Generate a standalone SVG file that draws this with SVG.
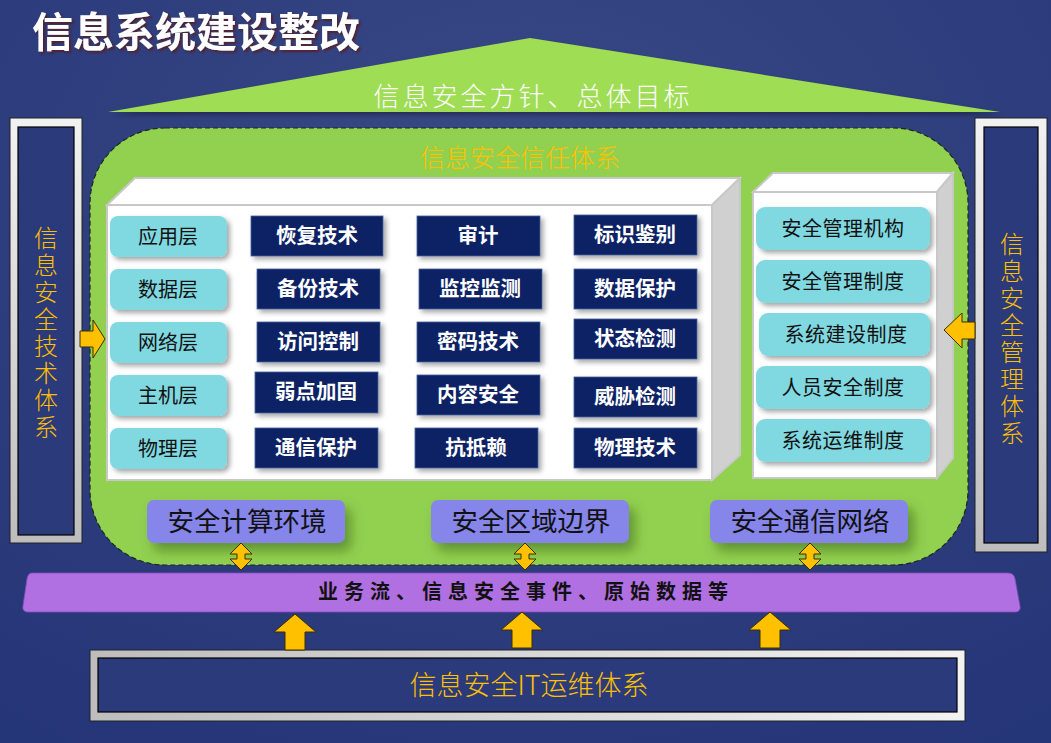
<svg xmlns="http://www.w3.org/2000/svg" width="1051" height="743" viewBox="0 0 1051 743">
<defs>
  <radialGradient id="bg" cx="0.5" cy="0.25" r="0.9">
    <stop offset="0" stop-color="#3a4a86"/>
    <stop offset="0.6" stop-color="#2c3c7c"/>
    <stop offset="1" stop-color="#243578"/>
  </radialGradient>
  <linearGradient id="silver" x1="0" y1="0" x2="0" y2="1">
    <stop offset="0" stop-color="#f2f2f2"/>
    <stop offset="1" stop-color="#bdbdbd"/>
  </linearGradient>
  <linearGradient id="silverH" x1="0" y1="0" x2="1" y2="0">
    <stop offset="0" stop-color="#bdbdbd"/>
    <stop offset="1" stop-color="#f2f2f2"/>
  </linearGradient>
  <filter id="sh" x="-20%" y="-20%" width="150%" height="160%">
    <feDropShadow dx="3" dy="3" stdDeviation="2.5" flood-color="#000" flood-opacity="0.35"/>
  </filter>
  <filter id="sh2" x="-20%" y="-30%" width="150%" height="190%">
    <feDropShadow dx="6" dy="8" stdDeviation="6" flood-color="#2f5a10" flood-opacity="0.5"/>
  </filter>
  <filter id="tsh" x="-10%" y="-20%" width="120%" height="150%">
    <feDropShadow dx="2" dy="2" stdDeviation="0.8" flood-color="#5a1a1a" flood-opacity="0.8"/>
  </filter>
  <style>
    .cn{font-family:"Noto Sans CJK SC","Noto Sans",sans-serif}
    .layer{fill:#80d8e0}
    .tech{fill:#0b2465;stroke:#4a5f99;stroke-width:0.8}
    .lt{font-size:20px;fill:#111;text-anchor:middle}
    .tt{font-size:20.5px;fill:#fff;font-weight:bold;text-anchor:middle}
    .mt{font-size:20px;fill:#111;text-anchor:middle;letter-spacing:0.5px}
    .bt{font-size:26.5px;fill:#111;text-anchor:middle}
    .arrow{fill:#ffc000;stroke:#3a3000;stroke-width:1}
    .vt{font-size:24px;fill:#ffc000;font-weight:300;letter-spacing:3px}
  </style>
</defs>

<rect width="1051" height="743" fill="url(#bg)"/>

<g id="title">
  <text x="32" y="47" class="cn" font-size="41" font-weight="bold" fill="#ffffff" filter="url(#tsh)">信息系统建设整改</text>
</g>

<g id="roof">
  <polygon points="108,112 530,38 1000,112" fill="#9fdd55" filter="url(#sh)"/>
  <text x="533" y="106" class="cn" font-size="26" fill="#ffffff" text-anchor="middle" letter-spacing="3" font-weight="300">信息安全方针、总体目标</text>
</g>

<g id="tech-system">
  <rect x="10" y="118" width="72" height="425" fill="url(#silver)" stroke="#222" stroke-width="1"/>
  <rect x="18" y="127" width="56" height="408" fill="#2b3a7a" stroke="#000" stroke-width="1.2"/>
  <text x="46" y="226" class="cn vt" writing-mode="tb">信息安全技术体系</text>
</g>

<g id="mgmt-system">
  <rect x="975" y="118" width="72" height="434" fill="url(#silver)" stroke="#222" stroke-width="1"/>
  <rect x="984" y="127" width="54" height="416" fill="#2b3a7a" stroke="#000" stroke-width="1.2"/>
  <text x="1012" y="232" class="cn vt" writing-mode="tb">信息安全管理体系</text>
</g>

<g id="trust-system">
  <rect x="90" y="128" width="878" height="437" rx="75" ry="75" fill="#92d050" stroke="#1a2a1a" stroke-width="1.2" stroke-dasharray="5,3"/>
  <text x="520" y="167" class="cn" font-size="25" fill="#ffc000" text-anchor="middle" font-weight="300">信息安全信任体系</text>
</g>

<g id="tech-box">
  <polygon points="107,205 135,178 740,178 712,205" fill="#ffffff" stroke="#c8c8c8" stroke-width="2"/>
  <polygon points="712,205 740,178 740,455 712,480" fill="#d0d0d0" stroke="#c8c8c8" stroke-width="2"/>
  <rect x="107" y="205" width="605" height="275" fill="#ffffff" stroke="#c8c8c8" stroke-width="2"/>
</g>

<g id="layers" class="cn">
  <g id="l-app"><rect x="110" y="216" width="117" height="41" rx="8" class="layer" filter="url(#sh)"/><text x="168" y="244" class="lt">应用层</text></g>
  <g id="l-data"><rect x="110" y="269" width="117" height="41" rx="8" class="layer" filter="url(#sh)"/><text x="168" y="297" class="lt">数据层</text></g>
  <g id="l-net"><rect x="110" y="322" width="117" height="41" rx="8" class="layer" filter="url(#sh)"/><text x="168" y="350" class="lt">网络层</text></g>
  <g id="l-host"><rect x="110" y="375" width="117" height="41" rx="8" class="layer" filter="url(#sh)"/><text x="168" y="403" class="lt">主机层</text></g>
  <g id="l-phy"><rect x="110" y="428" width="117" height="41" rx="8" class="layer" filter="url(#sh)"/><text x="168" y="456" class="lt">物理层</text></g>
</g>

<g id="techs" class="cn">
  <g id="t1"><rect x="251" y="216" width="132" height="40" class="tech" filter="url(#sh)"/><text x="317" y="243" class="tt">恢复技术</text></g>
  <g id="t2"><rect x="257" y="269" width="123" height="40" class="tech" filter="url(#sh)"/><text x="318" y="296" class="tt">备份技术</text></g>
  <g id="t3"><rect x="257" y="322" width="123" height="40" class="tech" filter="url(#sh)"/><text x="318" y="349" class="tt">访问控制</text></g>
  <g id="t4"><rect x="255" y="372" width="123" height="41" class="tech" filter="url(#sh)"/><text x="316" y="399" class="tt">弱点加固</text></g>
  <g id="t5"><rect x="255" y="428" width="123" height="40" class="tech" filter="url(#sh)"/><text x="316" y="455" class="tt">通信保护</text></g>

  <g id="t6"><rect x="417" y="216" width="123" height="40" class="tech" filter="url(#sh)"/><text x="478" y="243" class="tt">审计</text></g>
  <g id="t7"><rect x="419" y="269" width="123" height="40" class="tech" filter="url(#sh)"/><text x="480" y="296" class="tt">监控监测</text></g>
  <g id="t8"><rect x="417" y="322" width="123" height="40" class="tech" filter="url(#sh)"/><text x="478" y="349" class="tt">密码技术</text></g>
  <g id="t9"><rect x="417" y="375" width="123" height="40" class="tech" filter="url(#sh)"/><text x="478" y="402" class="tt">内容安全</text></g>
  <g id="t10"><rect x="415" y="428" width="123" height="40" class="tech" filter="url(#sh)"/><text x="476" y="455" class="tt">抗抵赖</text></g>

  <g id="t11"><rect x="574" y="215" width="123" height="40" class="tech" filter="url(#sh)"/><text x="635" y="242" class="tt">标识鉴别</text></g>
  <g id="t12"><rect x="574" y="269" width="123" height="40" class="tech" filter="url(#sh)"/><text x="635" y="296" class="tt">数据保护</text></g>
  <g id="t13"><rect x="574" y="319" width="123" height="40" class="tech" filter="url(#sh)"/><text x="635" y="346" class="tt">状态检测</text></g>
  <g id="t14"><rect x="574" y="377" width="123" height="40" class="tech" filter="url(#sh)"/><text x="635" y="404" class="tt">威胁检测</text></g>
  <g id="t15"><rect x="574" y="428" width="123" height="40" class="tech" filter="url(#sh)"/><text x="635" y="455" class="tt">物理技术</text></g>
</g>

<g id="mgmt-box">
  <polygon points="753,192 773,173 953,173 937,192" fill="#ffffff" stroke="#c8c8c8" stroke-width="2"/>
  <polygon points="937,192 953,173 953,458 937,478" fill="#d0d0d0" stroke="#c8c8c8" stroke-width="2"/>
  <rect x="753" y="192" width="184" height="286" fill="#ffffff" stroke="#c8c8c8" stroke-width="2"/>
</g>

<g id="mgmt" class="cn">
  <g id="m1"><rect x="756" y="207" width="174" height="43" rx="9" class="layer" filter="url(#sh)"/><text x="843" y="236" class="mt">安全管理机构</text></g>
  <g id="m2"><rect x="756" y="260" width="174" height="43" rx="9" class="layer" filter="url(#sh)"/><text x="843" y="289" class="mt">安全管理制度</text></g>
  <g id="m3"><rect x="759" y="313" width="171" height="43" rx="9" class="layer" filter="url(#sh)"/><text x="846" y="342" class="mt">系统建设制度</text></g>
  <g id="m4"><rect x="756" y="366" width="174" height="43" rx="9" class="layer" filter="url(#sh)"/><text x="843" y="395" class="mt">人员安全制度</text></g>
  <g id="m5"><rect x="756" y="419" width="174" height="43" rx="9" class="layer" filter="url(#sh)"/><text x="843" y="448" class="mt">系统运维制度</text></g>
</g>

<g id="zones" class="cn">
  <g id="z1"><rect x="147" y="500" width="198" height="43" rx="7" fill="#8585ea" filter="url(#sh2)"/><text x="247" y="531" class="bt">安全计算环境</text></g>
  <g id="z2"><rect x="431" y="500" width="198" height="43" rx="7" fill="#8585ea" filter="url(#sh2)"/><text x="531" y="531" class="bt">安全区域边界</text></g>
  <g id="z3"><rect x="710" y="500" width="198" height="43" rx="7" fill="#8585ea" filter="url(#sh2)"/><text x="810" y="531" class="bt">安全通信网络</text></g>
</g>

<g id="dataflow">
  <path d="M32,573 L1008,573 Q1014,573 1015,579 L1020,606 Q1021,612 1015,612 L28,612 Q22,612 23,606 L27,579 Q28,573 32,573 Z" fill="#b070e2" stroke="#8a4cc0" stroke-width="0.8"/>
  <text x="526" y="599" class="cn" font-size="20" font-weight="bold" fill="#111" text-anchor="middle" letter-spacing="6">业务流、信息安全事件、原始数据等</text>
</g>

<g id="itops">
  <rect x="90" y="650" width="875" height="71" fill="url(#silverH)" stroke="#222" stroke-width="1"/>
  <rect x="98" y="658" width="859" height="54" fill="#2b3a7a" stroke="#000" stroke-width="1.2"/>
  <text x="529" y="695" class="cn" font-size="27" fill="#ffc000" text-anchor="middle" font-weight="300">信息安全IT运维体系</text>
</g>

<g id="connectors">
  <polygon class="arrow" points="80,331 93,331 93,320 105,339 93,358 93,347 80,347"/>
  <polygon class="arrow" points="975,322 962,322 962,313 944,330 962,348 962,339 975,339"/>
  <polygon class="arrow" points="241,543 252,554 245,554 245,559 252,559 241,570 230,559 237,559 237,554 230,554"/>
  <polygon class="arrow" points="525,543 536,554 529,554 529,559 536,559 525,570 514,559 521,559 521,554 514,554"/>
  <polygon class="arrow" points="810,543 821,554 814,554 814,559 821,559 810,570 799,559 806,559 806,554 799,554"/>
  <polygon class="arrow" points="285,650 285,632 274,632 295,614 316,632 305,632 305,650"/>
  <polygon class="arrow" points="512,648 512,630 501,630 522,612 543,630 532,630 532,648"/>
  <polygon class="arrow" points="760,648 760,630 749,630 770,612 791,630 780,630 780,648"/>
</g>
</svg>
